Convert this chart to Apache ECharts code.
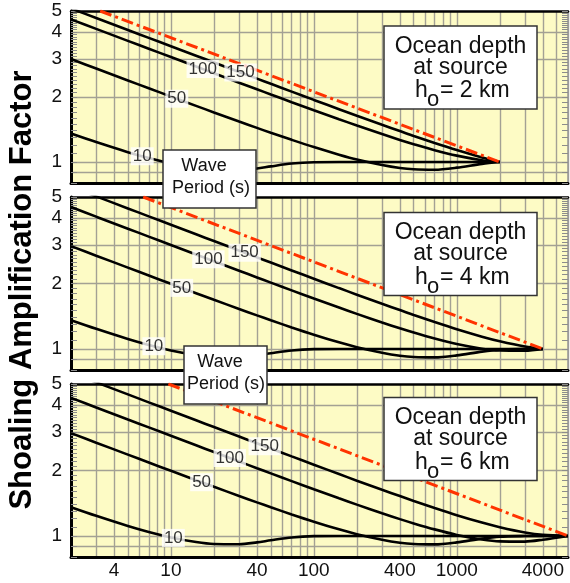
<!DOCTYPE html>
<html><head><meta charset="utf-8">
<script src="https://cdn.jsdelivr.net/npm/echarts@6/dist/echarts.min.js"></script>
<style>html,body{margin:0;padding:0;background:#fff}#c{width:570px;height:583px}</style>
</head><body><div id="c"></div>
<script>
const FONT = '"Liberation Sans", Arial, Helvetica, sans-serif';
// ocean depth (m) where the wave is
const depth = [2,3,5,7,10,15,20,30,40,50,70,100,150,200,300,400,500,700,1000,1500,2000,3000,4000,6000];
const periods = ['10','50','100','150'];
const sourceLabel = ['2 km','4 km','6 km'];
const xLabelVals = [4,10,40,100,400,1000,4000];
const yLabelVals = [1,2,3,4,5];
const yGridVals = [0.9,1,2,3,4];

// panel 1: h0 = 2 km
const p1_T10  = [1.355,1.237,1.111,1.043,0.984,0.937,0.918,0.916,0.934,0.955,0.984,0.998,1.0,1.0,1.0,1.0,1.0,1.0,1.0,1.0,1.0];
const p1_T50  = [2.996,2.709,2.386,2.195,2.010,1.820,1.697,1.540,1.439,1.366,1.267,1.173,1.082,1.027,0.969,0.939,0.926,0.922,0.942,0.981,1.0];
const p1_T100 = [4.573,4.132,3.638,3.345,3.061,2.767,2.576,2.330,2.171,2.055,1.893,1.737,1.578,1.476,1.347,1.266,1.210,1.135,1.071,1.020,1.0];
const p1_T150 = [5.135,4.640,4.084,3.754,3.435,3.105,2.890,2.612,2.432,2.301,2.118,1.939,1.756,1.638,1.487,1.391,1.320,1.225,1.136,1.050,1.0];
const p1_green = [[3.2,5],[2000,1]];
const p1_labelDepth = [6.3,11,16.7,30.7];

// panel 2: h0 = 4 km
const p2_T10  = [1.355,1.237,1.111,1.043,0.984,0.937,0.918,0.916,0.934,0.955,0.984,0.998,1.0,1.0,1.0,1.0,1.0,1.0,1.0,1.0,1.0,1.0,1.0];
const p2_T50  = [2.971,2.686,2.366,2.176,1.993,1.805,1.683,1.527,1.427,1.355,1.256,1.163,1.072,1.019,0.961,0.931,0.918,0.914,0.934,0.972,0.992,0.999,1.0];
const p2_T100 = [4.494,4.060,3.575,3.287,3.008,2.719,2.532,2.290,2.133,2.019,1.860,1.707,1.551,1.450,1.324,1.244,1.189,1.116,1.053,1.002,0.983,0.981,1.0];
const p2_T150 = [5.570,5.033,4.430,4.072,3.726,3.368,3.135,2.834,2.638,2.496,2.297,2.104,1.905,1.777,1.613,1.509,1.432,1.329,1.232,1.139,1.085,1.026,1.0];
const p2_green = [[6.4,5],[4000,1]];
const p2_labelDepth = [7.6,11.9,18.3,32.8];

// panel 3: h0 = 6 km
const p3_T10  = [1.355,1.237,1.111,1.043,0.984,0.937,0.918,0.916,0.934,0.955,0.984,0.998,1.0,1.0,1.0,1.0,1.0,1.0,1.0,1.0,1.0,1.0,1.0,1.0];
const p3_T50  = [2.971,2.686,2.366,2.176,1.993,1.805,1.683,1.527,1.427,1.355,1.256,1.163,1.072,1.019,0.961,0.931,0.918,0.914,0.934,0.972,0.992,0.999,1.0,1.0];
const p3_T100 = [4.317,3.901,3.434,3.158,2.889,2.612,2.432,2.200,2.049,1.940,1.787,1.640,1.490,1.393,1.272,1.195,1.142,1.072,1.011,0.963,0.944,0.942,0.961,1.0];
const p3_T150 = [5.630,5.088,4.478,4.117,3.767,3.404,3.169,2.865,2.667,2.523,2.322,2.127,1.926,1.796,1.631,1.525,1.448,1.344,1.246,1.152,1.097,1.037,1.011,1.0];
const p3_green = [[9.6,5],[6000,1]];
const p3_labelDepth = [10.4,16.4,25.8,45.3];

const panels = [
  {T:[p1_T10,p1_T50,p1_T100,p1_T150], green:p1_green, lab:p1_labelDepth},
  {T:[p2_T10,p2_T50,p2_T100,p2_T150], green:p2_green, lab:p2_labelDepth},
  {T:[p3_T10,p3_T50,p3_T100,p3_T150], green:p3_green, lab:p3_labelDepth}
];

// grid-line values (1..9 per decade) and fine y ticks
const xGridVals = [];
[1,10,100,1000].forEach(d => { for (let m=1;m<10;m++){ const v=m*d; if (v>2 && v<=6000) xGridVals.push(v); } });
const yFineTicks = [];
for (let i=8;i<=50;i++) yFineTicks.push(i/10);

function pairs(vals){ return vals.map((v,i)=>[depth[i], v]); }
function interp(h, vals){
  for (let i=0;i<vals.length-1;i++){
    if (h>=depth[i] && h<=depth[i+1]){
      const t=(Math.log(h)-Math.log(depth[i]))/(Math.log(depth[i+1])-Math.log(depth[i]));
      return Math.exp(Math.log(vals[i])+t*(Math.log(vals[i+1])-Math.log(vals[i])));
    }
  }
  return vals[vals.length-1];
}

const gridTop = [11,197,384], gridH = [172,173,173];
const grid = [], xAxis = [], yAxis = [], series = [];
const gridColor = '#a3a194';
for (let p=0;p<3;p++){
  grid.push({left:71,right:2,top:gridTop[p],height:gridH[p],show:true,backgroundColor:'#fdfbc5',borderWidth:0});
  xAxis.push({type:'log',logBase:10,gridIndex:p,min:2,max:6000,position:'bottom',
    axisLine:{show:true,onZero:false,lineStyle:{color:'#000',width:3}},
    axisTick:{show:false,customValues:xGridVals},
    splitLine:{show:true,lineStyle:{color:gridColor,width:1.4}},
    axisLabel:{show:p===2,customValues:xLabelVals,fontSize:19,color:'#111',margin:4,fontFamily:FONT,formatter:v=>String(Math.round(v))}
  });
}
for (let p=0;p<3;p++){
  xAxis.push({type:'log',logBase:10,gridIndex:p,min:2,max:6000,position:'top',
    axisLine:{show:true,onZero:false,lineStyle:{color:'#000',width:2.5}},
    axisTick:{show:false},axisLabel:{show:false},splitLine:{show:false}});
}
for (let p=0;p<3;p++){
  yAxis.push({type:'log',logBase:10,gridIndex:p,min:0.8,max:5,position:'left',
    axisLine:{show:true,onZero:false,lineStyle:{color:'#000',width:3}},
    axisTick:{show:true,inside:true,length:6,customValues:yFineTicks,lineStyle:{color:'#8c8c8c',width:1}},
    axisLabel:{customValues:yLabelVals,fontSize:19,color:'#111',margin:9,fontFamily:FONT,formatter:v=>String(Math.round(v))},
    splitLine:{show:false}});
  yAxis.push({type:'log',logBase:10,gridIndex:p,min:0.8,max:5,position:'right',
    axisLine:{show:true,onZero:false,lineStyle:{color:'#9a9a9a',width:1.5}},
    axisTick:{show:true,inside:true,length:6,customValues:yFineTicks,lineStyle:{color:'#8c8c8c',width:1}},
    axisLabel:{show:false},splitLine:{show:false}});
  yAxis.push({type:'log',logBase:10,gridIndex:p,min:0.8,max:5,
    axisLine:{show:false},axisTick:{show:false,customValues:yGridVals},axisLabel:{show:false},
    splitLine:{show:true,lineStyle:{color:gridColor,width:1.4}}});
}
panels.forEach((pn,p)=>{
  pn.T.forEach((vals,k)=>{
    series.push({type:'line',xAxisIndex:p,yAxisIndex:3*p,data:pairs(vals),showSymbol:false,smooth:0.3,
      lineStyle:{color:'#000',width:2.6},z:3,silent:true,clip:true});
  });
  series.push({type:'line',xAxisIndex:p,yAxisIndex:3*p,data:pn.green,showSymbol:false,
    lineStyle:{color:'#ff3300',width:3,type:[12,4,3,4]},z:4,silent:true,clip:true});
  series.push({type:'scatter',xAxisIndex:p,yAxisIndex:3*p,silent:true,z:6,symbolSize:1,
    itemStyle:{color:'rgba(0,0,0,0)'},
    data:periods.map((name,k)=>({name:name,value:[pn.lab[k],interp(pn.lab[k],pn.T[k])]})),
    label:{show:true,position:'inside',formatter:'{b}',backgroundColor:'#fff',padding:[1,2,0,2],
      fontSize:17,color:'#000',fontFamily:FONT}});
});

const graphic = [];
const boxTop = [26,212.5,397.5];
boxTop.forEach((t,p)=>{
  graphic.push({type:'rect',z:100,shape:{x:384,y:t,width:153,height:83},style:{fill:'#fff',stroke:'#333',lineWidth:1.5}});
  graphic.push({type:'text',z:101,x:460.5,y:t+10,style:{text:'Ocean depth\nat source',fontSize:23,fontFamily:FONT,fill:'#111',align:'center',verticalAlign:'top',lineHeight:21}});
  graphic.push({type:'text',z:101,x:415,y:t+65,style:{text:'h',fontSize:23,fontFamily:FONT,fill:'#111',align:'left',verticalAlign:'middle'}});
  graphic.push({type:'text',z:101,x:427,y:t+74,style:{text:'o',fontSize:22,fontFamily:FONT,fill:'#111',align:'left',verticalAlign:'middle'}});
  graphic.push({type:'text',z:101,x:440,y:t+65,style:{text:'= '+sourceLabel[p],fontSize:23,fontFamily:FONT,fill:'#111',align:'left',verticalAlign:'middle'}});
});
[[163,150,93,58,204,211],[184,346,83,58,220,226]].forEach(b=>{
  graphic.push({type:'rect',z:100,shape:{x:b[0],y:b[1],width:b[2],height:b[3]},style:{fill:'#fff',stroke:'#333',lineWidth:1.5}});
  graphic.push({type:'text',z:101,x:b[4],y:b[1]+16,style:{text:'Wave',fontSize:18,fontFamily:FONT,fill:'#111',align:'center',verticalAlign:'middle'}});
  graphic.push({type:'text',z:101,x:b[5],y:b[1]+38,style:{text:'Period (s)',fontSize:18,fontFamily:FONT,fill:'#111',align:'center',verticalAlign:'middle'}});
});
graphic.push({type:'text',z:101,x:22,y:290,rotation:Math.PI/2,style:{text:'Shoaling Amplification Factor',fontSize:31,fontWeight:'bold',fontFamily:FONT,fill:'#000',align:'center',verticalAlign:'middle'}});

const chart = echarts.init(document.getElementById('c'), null, {renderer:'canvas'});
chart.setOption({animation:false,backgroundColor:'#fff',grid,xAxis,yAxis,series,graphic});
</script></body></html>
